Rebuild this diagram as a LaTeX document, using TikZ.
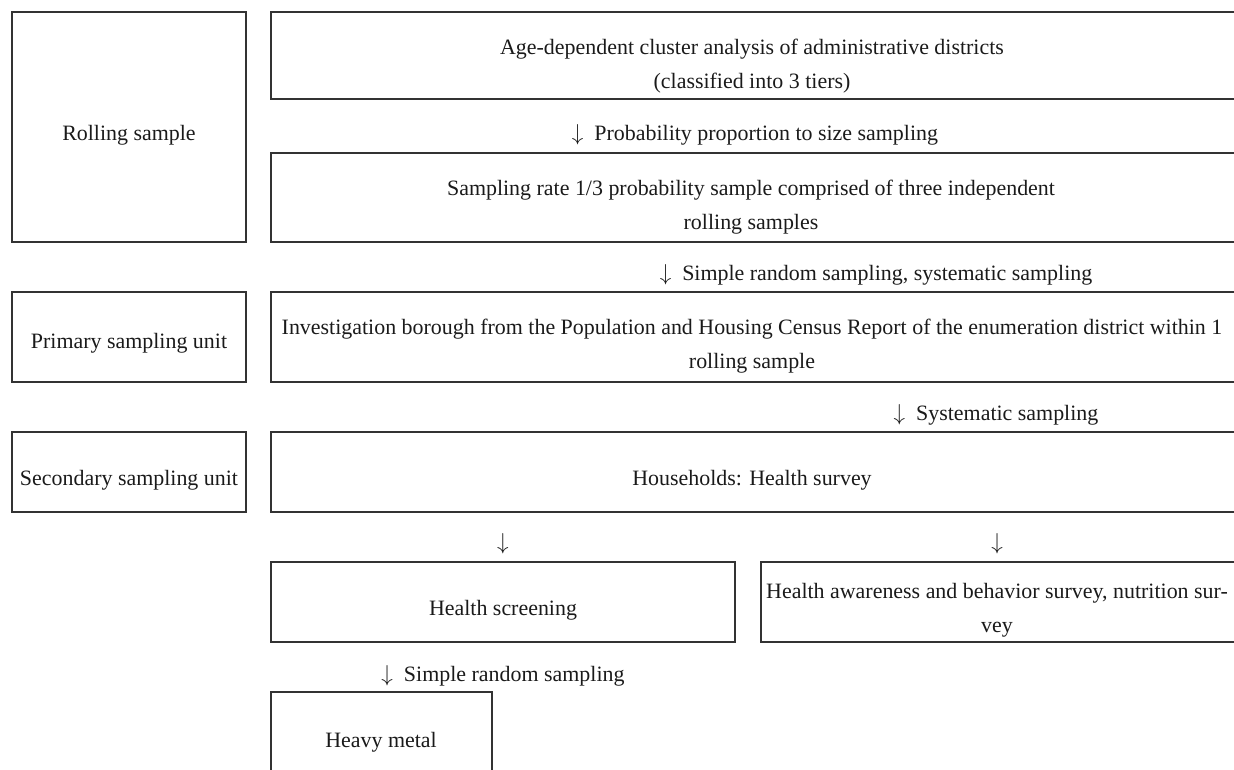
\documentclass[tikz,border=0pt]{standalone}
\usepackage{fontspec}
\setmainfont{Liberation Serif}
\usetikzlibrary{fit}
\definecolor{frame}{HTML}{333333}
\definecolor{ink}{HTML}{1A1A1A}
\begin{document}
\begin{tikzpicture}[x=0.75pt,y=-0.75pt,
  box/.style={draw=frame,line width=1.3pt,inner sep=0pt},
  txt/.style={text=ink,font=\fontsize{16.45}{25.5}\selectfont,align=center,inner sep=0pt,yshift=-2pt},
  lbl/.style={txt}]
\useasboundingbox (0,0) rectangle (1234,769);
\clip (0,0) rectangle (1234,769);
% boxes
\node[box,fit={(12,12)(246,242)}] (rs) {};
\node[box,fit={(271,12)(1260,99)}] (b1) {};
\node[box,fit={(271,153)(1260,242)}] (b2) {};
\node[box,fit={(12,292)(246,382)}] (psu) {};
\node[box,fit={(271,292)(1260,382)}] (b3) {};
\node[box,fit={(12,432)(246,512)}] (ssu) {};
\node[box,fit={(271,432)(1260,512)}] (b4) {};
\node[box,fit={(271,562)(735,642)}] (hs) {};
\node[box,fit={(761,562)(1260,642)}] (ha) {};
\node[box,fit={(271,692)(492,800)}] (hm) {};
% texts
\node[txt] (trs) at (129,133) {Rolling sample};
\node[txt] (tpsu) at (129,341) {Primary sampling unit};
\node[txt] (tssu) at (129,478) {Secondary sampling unit};
\node[txt] (tb1) at (752,63) {Age-dependent cluster analysis of administrative districts\\(classified into 3 tiers)};
\node[lbl] (l1) at (755,132) {$\downarrow$~ Probability proportion to size sampling};
\node[txt] (tb2) at (751,204) {Sampling rate 1/3 probability sample comprised of three independent\\rolling samples};
\node[lbl] (l2) at (876,272) {$\downarrow$~ Simple random sampling, systematic sampling};
\node[txt] (tb3) at (752,343.5) {Investigation borough from the Population and Housing Census Report of the enumeration district within 1\\rolling sample};
\node[lbl] (l3) at (996,412) {$\downarrow$~ Systematic sampling};
\node[txt] (tb4) at (752,478) {Households: Health survey};
\node[lbl] (a1) at (503,541) {$\downarrow$};
\node[lbl] (a2) at (997,541) {$\downarrow$};
\node[txt] (ths) at (503,608) {Health screening};
\node[txt] (tha) at (997,608) {Health awareness and behavior survey, nutrition sur-\\vey};
\node[lbl] (l4) at (503,673) {$\downarrow$~ Simple random sampling};
\node[txt] (thm) at (381,740) {Heavy metal};
\end{tikzpicture}
\end{document}
